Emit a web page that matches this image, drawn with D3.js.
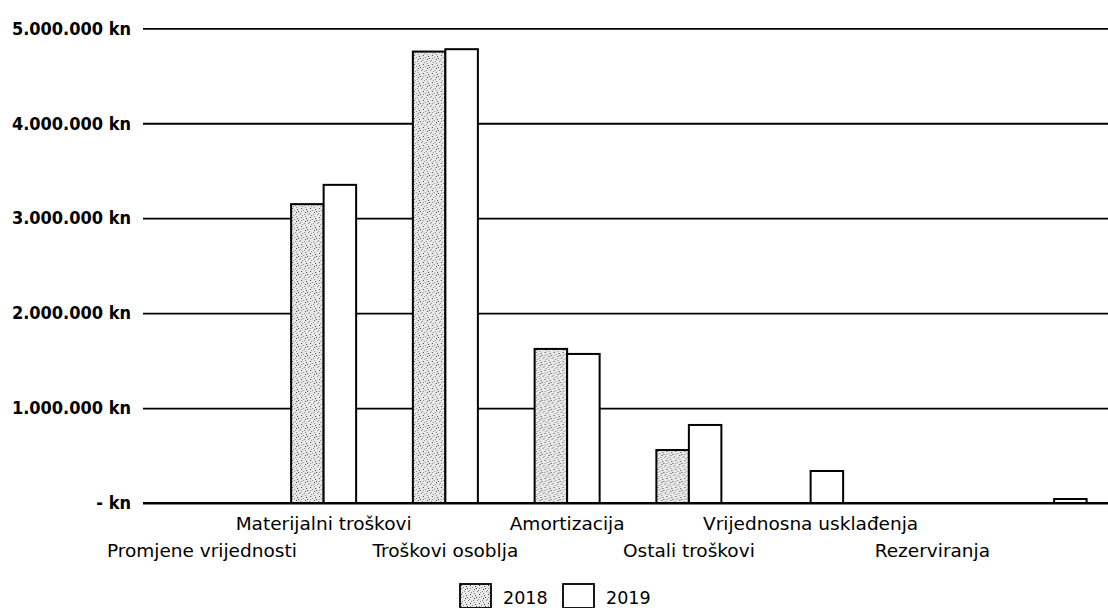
<!DOCTYPE html>
<html>
<head>
<meta charset="utf-8">
<script src="https://cdn.jsdelivr.net/npm/d3@7/dist/d3.min.js"></script>
<style>
  html, body { margin: 0; padding: 0; background: #fff; }
  svg { display: block; }
</style>
</head>
<body>
<svg id="chart" width="1108" height="608"></svg>
<script>
// ---- data ----
const categories = [
  "Promjene vrijednosti",
  "Materijalni troškovi",
  "Troškovi osoblja",
  "Amortizacija",
  "Ostali troškovi",
  "Vrijednosna usklađenja",
  "Rezerviranja",
  ""
];
const seriesNames = ["2018", "2019"];
const values2018 = [0, 3148000, 4755000, 1623000, 558000, 0, 0, 0];
const values2019 = [0, 3351000, 4780000, 1570000, 822000, 337000, 0, 42000];
const yTicks = [0, 1000000, 2000000, 3000000, 4000000, 5000000];

// ---- layout ----
const svg = d3.select("#chart");
const plotLeft = 141, plotRight = 1115, plotTop = 28.3, plotBottom = 503;
const gridLeft = 143, gridRight = 1108;

const defs = svg.append("defs");
const pat = defs.append("pattern")
  .attr("id", "stipple")
  .attr("patternUnits", "userSpaceOnUse")
  .attr("width", 9).attr("height", 9);
pat.append("rect").attr("width", 9).attr("height", 9).attr("fill", "#e8e8e8");
const dots = [[1,1],[5,0],[3,3],[7,4],[0,6],[4,7],[6,2],[2,8],[8,7],[5,5],[1,4]];
pat.selectAll("rect.d").data(dots).enter().append("rect")
  .attr("class", "d")
  .attr("x", d => d[0]).attr("y", d => d[1])
  .attr("width", 1).attr("height", 1)
  .attr("fill", (d, i) => i % 3 === 0 ? "#444" : "#8a8a8a");

const x0 = d3.scaleBand()
  .domain(categories)
  .range([plotLeft, plotRight])
  .paddingInner(0.466)
  .paddingOuter(0.233);
const x1 = d3.scaleBand()
  .domain(seriesNames)
  .range([0, x0.bandwidth()]);
const y = d3.scaleLinear().domain([0, 5000000]).range([plotBottom, plotTop]);

const fmt = v => v === 0 ? "- kn" : d3.format(",")(v).replace(/,/g, ".") + " kn";

// gridlines + y labels
const yAxis = d3.axisLeft(y)
  .tickValues(yTicks)
  .tickSize(-(gridRight - gridLeft))
  .tickPadding(12)
  .tickFormat(fmt);
const gy = svg.append("g")
  .attr("transform", `translate(${gridLeft},0)`)
  .call(yAxis);
gy.select(".domain").remove();
gy.selectAll(".tick line").attr("stroke", "#000").attr("stroke-width", 1.8);
gy.selectAll(".tick text")
  .attr("fill", "#000")
  .style("font-family", "'DejaVu Sans Condensed', 'DejaVu Sans', sans-serif")
  .style("font-stretch", "condensed")
  .style("font-weight", "bold")
  .style("font-size", "18px");

// bars
const rows = categories.map((c, i) => ({
  cat: c,
  vals: [
    { s: "2018", v: values2018[i] },
    { s: "2019", v: values2019[i] }
  ]
}));
const groups = svg.append("g").selectAll("g").data(rows).enter().append("g")
  .attr("transform", d => `translate(${x0(d.cat)},0)`);
groups.selectAll("rect")
  .data(d => d.vals.filter(e => e.v > 0))
  .enter().append("rect")
  .attr("x", d => x1(d.s))
  .attr("y", d => y(d.v))
  .attr("width", x1.bandwidth())
  .attr("height", d => y(0) - y(d.v))
  .attr("fill", d => d.s === "2018" ? "url(#stipple)" : "#fff")
  .attr("stroke", "#000")
  .attr("stroke-width", 2);

// baseline
svg.append("line")
  .attr("x1", gridLeft).attr("x2", gridRight)
  .attr("y1", y(0)).attr("y2", y(0))
  .attr("stroke", "#000").attr("stroke-width", 2);

// category labels (staggered rows)
svg.append("g").selectAll("text").data(categories).enter().append("text")
  .attr("x", d => x0(d) + x0.bandwidth() / 2)
  .attr("y", (d, i) => i % 2 === 1 ? 530 : 557)
  .attr("text-anchor", "middle")
  .style("font-family", "'DejaVu Sans', sans-serif")
  .style("font-size", "18.5px")
  .attr("fill", "#000")
  .text(d => d);

// legend
const legendX = [460, 563];
const leg = svg.append("g").selectAll("g").data(seriesNames).enter().append("g")
  .attr("transform", (d, i) => `translate(${legendX[i]},584)`);
leg.append("rect")
  .attr("width", 31).attr("height", 24)
  .attr("fill", d => d === "2018" ? "url(#stipple)" : "#fff")
  .attr("stroke", "#000").attr("stroke-width", 1.8);
leg.append("text")
  .attr("x", 43).attr("y", 20)
  .style("font-family", "'DejaVu Sans', sans-serif")
  .style("font-size", "17.5px")
  .attr("fill", "#000")
  .text(d => d);
</script>
</body>
</html>
